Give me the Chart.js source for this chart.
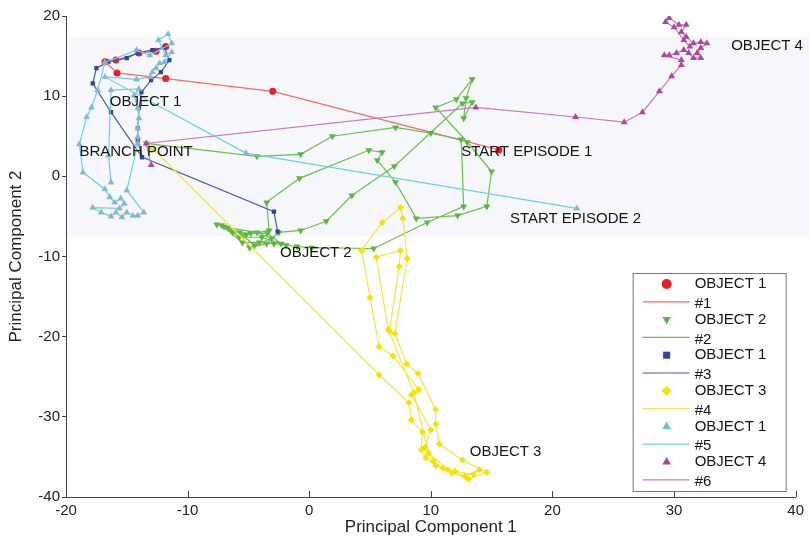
<!DOCTYPE html>
<html>
<head>
<meta charset="utf-8">
<script src="https://cdn.jsdelivr.net/npm/chart.js@4.4.0/dist/chart.umd.min.js"></script>
<style>
html, body { margin: 0; padding: 0; background: #fff; }
#wrap { position: relative; width: 809px; height: 542px; }
</style>
</head>
<body>
<div id="wrap"><canvas id="pca"></canvas></div>
<script>
// PCA trajectories: six episodes, each shown as marker series + line

const xTicks = [-20, -10, 0, 10, 20, 30, 40];
const yTicks = [-40, -30, -20, -10, 0, 10, 20];

const markerLabels = ['OBJECT 1', 'OBJECT 2', 'OBJECT 1', 'OBJECT 3', 'OBJECT 1', 'OBJECT 4'];
const lineLabels = ['#1', '#2', '#3', '#4', '#5', '#6'];

const series1 = [[15.6, 3.3], [-3.0, 10.6], [-11.8, 12.2], [-15.8, 12.9], [-16.8, 14.3], [-15.9, 14.5],
    [-14.0, 15.4], [-12.6, 15.6], [-11.8, 16.2]];

const series2 = [[-13.4, 4.1], [-4.3, 2.5], [-0.7, 2.75], [1.9, 5.0], [7.1, 6.1], [10.0, 5.4], [12.5, 4.6],
    [12.7, -3.75], [9.7, -5.75], [5.3, -9.0], [0.2, -8.9], [-1.0, -8.75], [-1.9, -8.6], [-2.9, -8.4],
    [-4.1, -8.25], [-5.5, -8.25], [-7.2, -6.1], [-6.3, -7.0], [-4.8, -7.1], [-3.45, -7.1], [-2.3, -8.4],
    [-3.9, -7.6], [-5.75, -7.6], [-6.7, -6.4], [-4.3, -7.0], [-3.1, -7.75], [-4.5, -8.6], [-5.75, -7.0],
    [-4.9, -8.9], [-3.5, -8.4], [-2.5, -7.0], [-0.7, -6.75], [1.4, -5.6], [3.5, -2.4], [7.0, 1.25],
    [12.6, 9.1], [13.4, 9.25], [12.7, 7.25], [12.9, 9.75], [13.4, 12.1], [12.1, 9.6], [10.4, 8.6],
    [13.0, 4.25], [15.0, 0.6], [14.6, -3.75], [12.2, -4.9], [8.8, -5.25], [7.1, -0.75], [5.6, 2.0],
    [6.0, 3.0], [4.9, 3.25], [-0.8, -0.25], [-3.5, -3.25], [-3.3, -6.75], [-5.2, -7.3], [-7.0, -6.3],
    [-7.6, -6.0]];

const series3 = [[-2.6, -6.9], [-2.9, -4.4], [-13.75, 2.4], [-16.3, 8.0], [-17.8, 11.6], [-17.5, 13.5],
    [-16.5, 14.3], [-15.0, 14.75], [-14.1, 15.4], [-12.9, 15.75], [-11.9, 16.1], [-11.5, 14.5],
    [-12.2, 13.0], [-13.0, 12.0], [-13.8, 10.5], [-14.0, 8.5], [-14.1, 6.0], [-14.1, 4.5], [-13.75, 2.4]];

const series4 = [[-12.9, 3.5], [5.75, -24.75], [8.2, -28.25], [8.4, -30.4], [9.3, -31.9], [9.2, -34.1],
    [9.6, -35.1], [10.4, -36.1], [11.75, -37.0], [13.1, -37.75], [14.6, -36.9], [12.6, -35.4],
    [10.7, -33.4], [10.4, -30.9], [10.4, -29.1], [8.95, -24.6], [8.0, -23.4], [7.05, -19.6],
    [8.05, -10.25], [7.7, -5.25], [7.5, -3.9], [6.0, -5.75], [4.3, -9.25], [5.0, -15.1], [5.75, -21.25],
    [6.9, -22.4], [9.0, -26.6], [8.4, -27.25], [10.0, -31.6], [9.5, -33.8], [10.2, -35.5], [11.0, -36.4],
    [12.0, -36.8], [13.5, -37.2], [14.0, -36.6], [12.8, -37.4], [11.4, -36.6], [9.8, -34.5], [8.6, -27.0],
    [6.5, -19.1], [5.5, -10.1], [7.5, -9.25], [7.4, -11.25], [6.6, -19.3]];

const series5 = [[22.0, -4.0], [-5.2, 2.9], [-16.8, 12.4], [-14.2, 12.1], [-13.1, 12.4], [-12.9, 13.0],
    [-12.6, 13.5], [-12.3, 14.1], [-11.9, 14.25], [-11.3, 15.5], [-11.8, 15.1], [-12.4, 17.0],
    [-11.6, 17.75], [-11.3, 16.6], [-13.1, 15.1], [-14.2, 15.75], [-16.8, 14.2], [-17.4, 10.75],
    [-17.9, 8.6], [-18.3, 7.4], [-18.9, 4.0], [-18.6, 0.5], [-16.8, -1.6], [-16.4, -2.6], [-16.0, -3.25],
    [-15.5, -2.75], [-15.2, -3.4], [-15.6, -4.0], [-17.8, -3.9], [-17.1, -4.5], [-16.3, -5.0],
    [-15.9, -4.5], [-15.4, -5.1], [-15.0, -4.5], [-14.5, -4.9], [-14.1, -4.9], [-13.6, -4.5],
    [-15.0, -1.75], [-14.1, 4.1], [-14.1, 4.9], [-14.1, 6.0], [-14.0, 7.25], [-14.1, 8.5], [-14.4, 10.1],
    [-14.0, 10.9], [-16.3, 10.75], [-16.5, 2.6], [-16.3, -0.75]];

const series6 = [[-13.0, 1.4], [-13.4, 4.1], [13.7, 8.6], [21.9, 7.4], [25.9, 6.75], [27.4, 8.0],
    [28.8, 10.6], [29.8, 12.5], [30.6, 13.9], [30.6, 14.5], [29.2, 15.1], [29.6, 15.1], [30.2, 15.4],
    [30.8, 15.75], [31.2, 15.4], [31.6, 14.75], [32.2, 14.75], [31.9, 15.4], [32.2, 16.0], [32.7, 16.6],
    [32.2, 16.75], [31.6, 16.6], [31.0, 17.4], [30.6, 18.0], [31.0, 18.9], [30.4, 18.9], [29.6, 19.75],
    [29.3, 19.25], [30.0, 18.6], [30.8, 17.0], [31.3, 16.2]];

// text labels placed in the plot, [text, x, y] in data units (left edge, middle)
const annotations = [
    ['OBJECT 1', -16.4, 9.25],
    ['BRANCH POINT', -18.9, 3.1],
    ['START EPISODE 1', 12.5, 3.1],
    ['START EPISODE 2', 16.5, -5.25],
    ['OBJECT 2', -2.4, -9.6],
    ['OBJECT 3', 13.2, -34.4],
    ['OBJECT 4', 34.7, 16.25]
];

// shaded band behind the upper trajectories (y range, data units)
const bandRange = [-7.4, 17.4];

const FONT = "'Liberation Sans', Arial, Helvetica, sans-serif";

function toXY(arr) {
    return arr.map(p => ({ x: p[0], y: p[1] }));
}

function makeSeries(points, idx, marker, line, style, radius, rotation, border) {
    return {
        label: markerLabels[idx],
        data: toXY(points),
        showLine: true,
        borderColor: line,
        borderWidth: 1.2,
        backgroundColor: marker,
        pointBackgroundColor: marker,
        pointBorderColor: border || marker,
        pointBorderWidth: border ? 0.8 : 0,
        pointStyle: style,
        pointRadius: radius,
        pointRotation: rotation,
        order: 6 - idx,
        legendLine: line
    };
}

const datasets = [
    makeSeries(series1, 0, '#e8202a', '#f36b6b', 'circle', 3.5, 0),
    makeSeries(series2, 1, '#5db543', '#6cbf4c', 'triangle', 4, 180),
    makeSeries(series3, 2, '#2c479e', '#4a5aa8', 'rect', 3, 0),
    makeSeries(series4, 3, '#f3e300', '#f1e64a', 'rectRot', 3.5, 0),
    makeSeries(series5, 4, '#5fc3e0', '#6ccfe6', 'triangle', 3.6, 0, 'rgba(240,160,160,0.55)'),
    makeSeries(series6, 5, '#b0479f', '#c77ac0', 'triangle', 4, 0)
];

const bandPlugin = {
    id: 'band',
    beforeDatasetsDraw(chart) {
        const { ctx, chartArea, scales } = chart;
        const top = scales.y.getPixelForValue(bandRange[1]);
        const bottom = scales.y.getPixelForValue(bandRange[0]);
        ctx.save();
        ctx.fillStyle = '#f5f7fb';
        ctx.fillRect(chartArea.left + 1, top, chart.width - chartArea.left - 1, bottom - top);
        ctx.restore();
    }
};

const xTickPlugin = {
    id: 'xInwardTicks',
    afterDraw(chart) {
        const { ctx, chartArea, scales } = chart;
        ctx.save();
        ctx.strokeStyle = '#444';
        ctx.lineWidth = 1;
        xTicks.forEach(v => {
            const px = Math.round(scales.x.getPixelForValue(v)) + 0.5;
            ctx.beginPath();
            ctx.moveTo(px, chartArea.bottom);
            ctx.lineTo(px, chartArea.bottom - 6);
            ctx.stroke();
        });
        ctx.restore();
    }
};

const annotationPlugin = {
    id: 'annotations',
    afterDatasetsDraw(chart) {
        const { ctx, scales } = chart;
        ctx.save();
        ctx.font = '15px ' + FONT;
        ctx.fillStyle = '#151515';
        ctx.textAlign = 'left';
        ctx.textBaseline = 'middle';
        annotations.forEach(a => {
            ctx.fillText(a[0], scales.x.getPixelForValue(a[1]), scales.y.getPixelForValue(a[2]));
        });
        ctx.restore();
    }
};

const boxLegendPlugin = {
    id: 'boxLegend',
    afterDraw(chart) {
        const { ctx, chartArea } = chart;
        const w = 153, h = 218;
        const x0 = chartArea.right - 163;
        const y0 = chartArea.bottom - 224;
        const rowH = 17.8;
        ctx.save();
        ctx.fillStyle = '#fff';
        ctx.fillRect(x0, y0, w, h);
        ctx.strokeStyle = '#777';
        ctx.lineWidth = 1;
        ctx.strokeRect(x0 + 0.5, y0 + 0.5, w, h);
        ctx.font = '15px ' + FONT;
        ctx.textAlign = 'left';
        ctx.textBaseline = 'middle';
        datasets.forEach((ds, i) => {
            const yM = y0 + 11 + (2 * i) * rowH;
            const yL = y0 + 11 + (2 * i + 1) * rowH;
            // marker row
            ctx.fillStyle = ds.pointBackgroundColor;
            ctx.strokeStyle = ds.pointBackgroundColor;
            Chart.helpers.drawPoint(ctx, {
                pointStyle: ds.pointStyle,
                radius: 5,
                rotation: ds.pointRotation,
                borderWidth: 0
            }, x0 + 34, yM);
            ctx.fillStyle = '#151515';
            ctx.fillText(markerLabels[i], x0 + 62, yM);
            // line row
            ctx.strokeStyle = ds.legendLine;
            ctx.lineWidth = 1.2;
            ctx.beginPath();
            ctx.moveTo(x0 + 10, yL);
            ctx.lineTo(x0 + 57, yL);
            ctx.stroke();
            ctx.fillText(lineLabels[i], x0 + 62, yL + 2);
        });
        ctx.restore();
    }
};

function initChart() {
    const ctx = document.getElementById('pca').getContext('2d');
    new Chart(ctx, {
        type: 'scatter',
        data: { datasets: datasets },
        options: {
            responsive: true,
            maintainAspectRatio: false,
            animation: false,
            devicePixelRatio: 1,
            layout: { padding: { left: 0, right: 12, top: 16, bottom: 0 } },
            plugins: {
                legend: { display: false },
                tooltip: { enabled: false }
            },
            scales: {
                x: {
                    type: 'linear',
                    min: -20,
                    max: 40,
                    afterBuildTicks: s => { s.ticks = xTicks.map(v => ({ value: v })); },
                    afterFit: s => { s.height = 45; },
                    grid: { drawOnChartArea: false, drawTicks: false },
                    border: { color: '#444' },
                    ticks: { color: '#222', font: { family: FONT, size: 15 }, padding: 5, maxRotation: 0 },
                    title: {
                        display: true,
                        text: 'Principal Component 1',
                        color: '#222',
                        font: { family: FONT, size: 17 },
                        padding: { top: 0, bottom: 4 }
                    }
                },
                y: {
                    type: 'linear',
                    min: -40,
                    max: 20,
                    afterBuildTicks: s => { s.ticks = yTicks.map(v => ({ value: v })); },
                    afterFit: s => { s.width = 66; },
                    grid: { drawOnChartArea: false, drawTicks: true, tickLength: 4, color: '#444' },
                    border: { color: '#444' },
                    ticks: { color: '#222', font: { family: FONT, size: 15 }, padding: 2 },
                    title: {
                        display: true,
                        text: 'Principal Component 2',
                        color: '#222',
                        font: { family: FONT, size: 17 },
                        padding: { top: 6, bottom: 0 }
                    }
                }
            }
        },
        plugins: [bandPlugin, annotationPlugin, xTickPlugin, boxLegendPlugin]
    });
}

if (document.readyState === 'loading') {
    document.addEventListener('DOMContentLoaded', initChart);
} else {
    initChart();
}
</script>
</body>
</html>
